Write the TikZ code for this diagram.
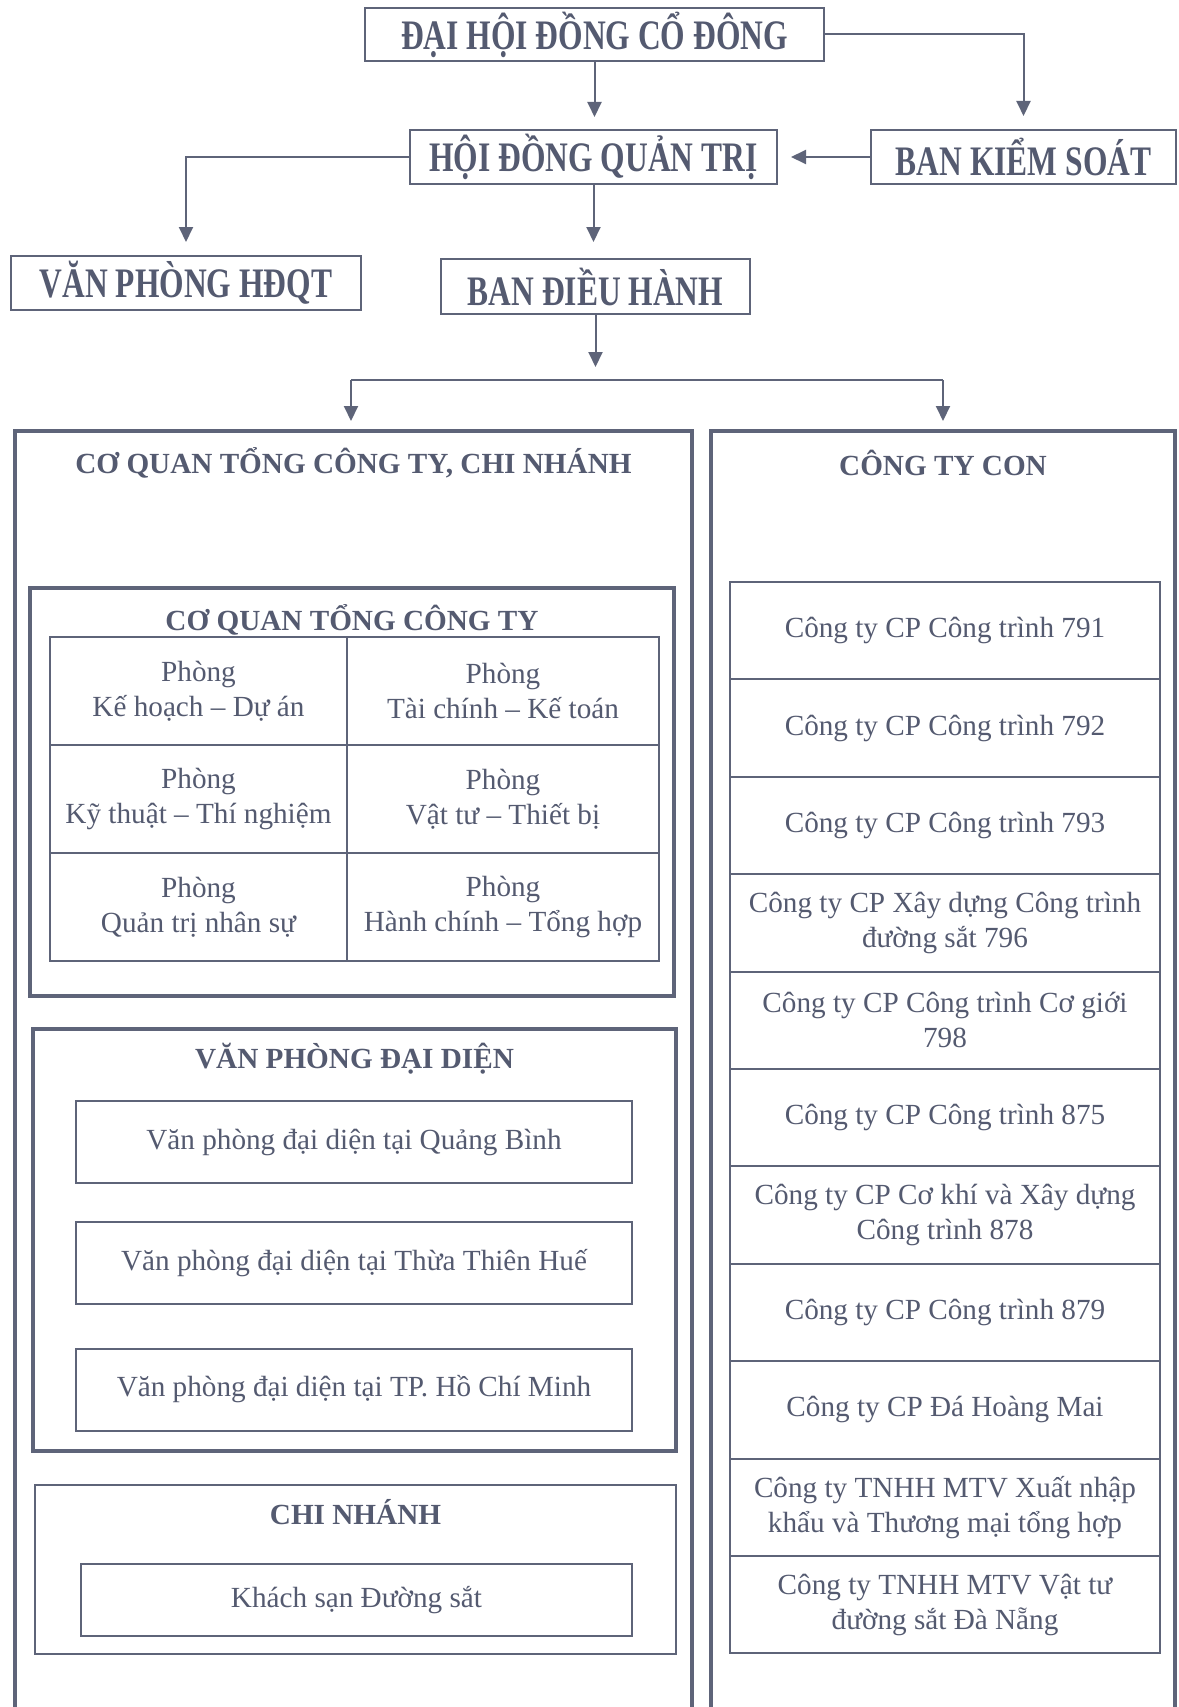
\documentclass[tikz,border=0pt]{standalone}
\usepackage{fontspec}
\setmainfont{Liberation Serif}
\newfontfamily\hdfont{Liberation Serif}[FakeStretch=0.75]
\usetikzlibrary{arrows.meta}
\definecolor{lc}{HTML}{5E6479}
\definecolor{tc}{HTML}{545A70}
\newcommand{\bodyf}{\fontsize{14.6}{17.5}\selectfont}
\newcommand{\secf}{\fontsize{14.6}{17.5}\selectfont\bfseries}
\newcommand{\topf}{\hdfont\fontsize{21}{25}\selectfont\bfseries}
\begin{document}
\begin{tikzpicture}[x=0.5pt,y=-0.5pt,
  tbox/.style={draw=lc,line width=1pt,inner sep=0pt,outer sep=0pt,text=tc,font=\topf,align=center},
  cell/.style={draw=lc,line width=1pt,inner sep=0pt,outer sep=0pt,text=tc,font=\bodyf,align=center},
  grp/.style={draw=lc,line width=2pt,inner sep=0pt,outer sep=0pt},
  bigbox/.style={draw=lc,line width=2.3pt,inner sep=0pt,outer sep=0pt},
  sect/.style={text=tc,font=\secf,inner sep=0pt,align=center},
  arr/.style={draw=lc,line width=1pt,-{Triangle[length=7.5pt,width=7pt]}},
  ln/.style={draw=lc,line width=1pt}]
\clip (0,0) rectangle (1178,1707);
\fill[white] (0,0) rectangle (1178,1707);

% top level
\node[tbox,minimum width=229.5pt,minimum height=26.5pt] (dhd) at (594.5,34.5) {ĐẠI HỘI ĐỒNG CỔ ĐÔNG};
\node[tbox,minimum width=183.5pt,minimum height=27pt] (hdqt) at (593.5,157) {HỘI ĐỒNG QUẢN TRỊ};
\node[tbox,minimum width=152.5pt,minimum height=27pt] (bks) at (1023.5,157) {BAN KIỂM SOÁT};
\node[tbox,minimum width=175pt,minimum height=27pt] (vph) at (186,283) {VĂN PHÒNG HĐQT};
\node[tbox,minimum width=154.5pt,minimum height=27.5pt] (bdh) at (595.5,286.5) {BAN ĐIỀU HÀNH};

% big boxes
\node[bigbox,minimum width=338.5pt,minimum height=664.5pt] (cq) at (353.5,1095.5) {};
\node[bigbox,minimum width=232pt,minimum height=664.5pt] (ct) at (943,1095.5) {};
\node[sect] (cqtitle) at (353.5,463) {CƠ QUAN TỔNG CÔNG TY, CHI NHÁNH};
\node[sect] (cttitle) at (943,463) {CÔNG TY CON};

% connectors
\coordinate (jl) at (351,380);
\coordinate (jr) at (943,380);
\draw[arr,shorten >=6.5pt] (dhd.south) -- (dhd.south |- hdqt.north);
\draw[arr,shorten >=7pt] (dhd.east) -| (bks.north);
\draw[arr,shorten >=7pt] (bks.west) -- (hdqt.east);
\draw[arr,shorten >=7pt] (hdqt.west) -| (vph.north);
\draw[arr,shorten >=8.5pt] (hdqt.south) -- (hdqt.south |- bdh.north);
\draw[arr,shorten >=6.5pt] (bdh.south) -- (bdh.south |- jl);
\draw[ln] (jl) -- (jr);
\draw[arr,shorten >=5pt] (jl) -- (jl |- cq.north);
\draw[arr,shorten >=5pt] (jr) -- (jr |- ct.north);

% Co quan tong cong ty
\node[grp,minimum width=322pt,minimum height=204pt] (cqtct) at (352,792) {};
\node[sect] (cqtcttitle) at (352,620) {CƠ QUAN TỔNG CÔNG TY};
\node[cell,minimum width=148.5pt,minimum height=54pt] (p11) at (198.5,691) {Phòng\\Kế hoạch – Dự án};
\node[cell,minimum width=156pt,minimum height=54pt] (p12) at (503,691) {Phòng\\Tài chính – Kế toán};
\node[cell,minimum width=148.5pt,minimum height=54pt] (p21) at (198.5,799) {Phòng\\Kỹ thuật – Thí nghiệm};
\node[cell,minimum width=156pt,minimum height=54pt] (p22) at (503,799) {Phòng\\Vật tư – Thiết bị};
\node[cell,minimum width=148.5pt,minimum height=54pt] (p31) at (198.5,907) {Phòng\\Quản trị nhân sự};
\node[cell,minimum width=156pt,minimum height=54pt] (p32) at (503,907) {Phòng\\Hành chính – Tổng hợp};

% Van phong dai dien
\node[grp,minimum width=321.5pt,minimum height=211pt] (vpdd) at (354.5,1240) {};
\node[sect] (vpddtitle) at (354.5,1059) {VĂN PHÒNG ĐẠI DIỆN};
\node[cell,minimum width=278pt,minimum height=41pt] (vp1) at (354,1142) {Văn phòng đại diện tại Quảng Bình};
\node[cell,minimum width=278pt,minimum height=41pt] (vp2) at (354,1263) {Văn phòng đại diện tại Thừa Thiên Huế};
\node[cell,minimum width=278pt,minimum height=41pt] (vp3) at (354,1389.5) {Văn phòng đại diện tại TP. Hồ Chí Minh};

% Chi nhanh
\node[cell,minimum width=320.5pt,minimum height=84.5pt] (cn) at (355.5,1569.5) {};
\node[sect] (cntitle) at (355.5,1512) {CHI NHÁNH};
\node[cell,minimum width=275.5pt,minimum height=36pt] (ks) at (356.5,1600) {Khách sạn Đường sắt};

% Cong ty con
\foreach \i/\t in {1/{Công ty CP Công trình 791},
                   2/{Công ty CP Công trình 792},
                   3/{Công ty CP Công trình 793},
                   4/{Công ty CP Xây dựng Công trình\\đường sắt 796},
                   5/{Công ty CP Công trình Cơ giới\\798},
                   6/{Công ty CP Công trình 875},
                   7/{Công ty CP Cơ khí và Xây dựng\\Công trình 878},
                   8/{Công ty CP Công trình 879},
                   9/{Công ty CP Đá Hoàng Mai},
                   10/{Công ty TNHH MTV Xuất nhập\\khẩu và Thương mại tổng hợp},
                   11/{Công ty TNHH MTV Vật tư\\đường sắt Đà Nẵng}}{
  \node[cell,minimum width=215pt,minimum height=48.7pt] (c\i) at (945,{582+97.4*(\i-0.5)}) {\t};
}
\end{tikzpicture}
\end{document}
